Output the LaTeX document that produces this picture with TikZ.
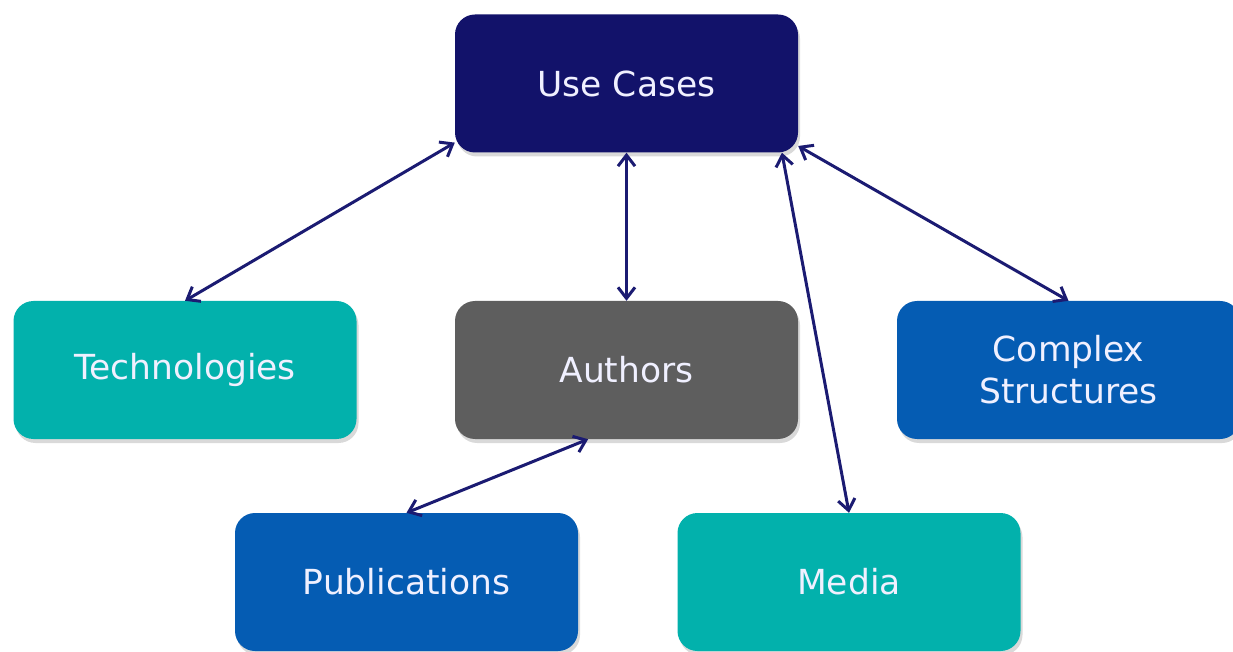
\documentclass[tikz,border=0pt]{standalone}
\usepackage{fontspec}
\setmainfont{DejaVu Sans}
\usetikzlibrary{arrows.meta,shadows}

\definecolor{navy}{HTML}{12126A}
\definecolor{teal}{HTML}{02B1AC}
\definecolor{slate}{HTML}{5E5E5E}
\definecolor{royal}{HTML}{055CB3}
\definecolor{link}{HTML}{1B1B72}

\begin{document}
\begin{tikzpicture}[x=1pt,y=1pt,
		box/.style={rectangle,rounded corners=20pt,minimum width=343pt,minimum height=138pt,
			text=white!94!blue,align=center,font=\fontsize{34.5}{42}\selectfont,
			drop shadow={shadow xshift=2pt,shadow yshift=-4pt,opacity=0.3}},
		link/.style={draw=link,line width=3pt,{Straight Barb[length=11pt,width=17pt]}-{Straight Barb[length=11pt,width=17pt]}}]
		\useasboundingbox (0,0) rectangle (1233,651);
		\node [box,fill=navy] (usecases) at (626.5,567.5) {Use Cases};
		\node [box,fill=teal] (tech) at (185,281) {Technologies};
		\node [box,fill=slate] (authors) at (626.5,281) {Authors};
		\node [box,fill=royal] (complex) at (1068.5,281) {Complex\\Structures};
		\node [box,fill=royal] (pubs) at (406.5,69) {Publications};
		\node [box,fill=teal] (media) at (849,69) {Media};

		\draw [link] (usecases.199) -- (tech.north);
		\draw [link] (usecases.south) -- (authors.north);
		\draw [link] (usecases.-24.3) -- (media.north);
		\draw [link] (usecases.-20) -- (complex.north);
		\draw [link] (authors.-119) -- (pubs.north);
	\end{tikzpicture}
\end{document}
